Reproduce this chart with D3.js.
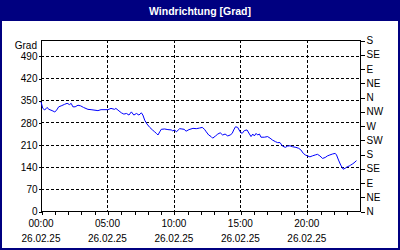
<!DOCTYPE html>
<html><head><meta charset="utf-8">
<script src="https://cdn.jsdelivr.net/npm/d3@7"></script>
<style>body{margin:0;background:#fff}svg{display:block}</style>
</head><body>
<script>
const title = "Windrichtung [Grad]";
const unitLabel = "Grad";
const dateLabel = "26.02.25";
const xTickHours = [0, 5, 10, 15, 20];
const yTicks = [0, 70, 140, 210, 280, 350, 420, 490];
const dirTicks = [0, 45, 90, 135, 180, 225, 270, 315, 360, 405, 450, 495, 540];
const dirLabels = ["N","NE","E","SE","S","SW","W","NW","N","NE","E","SE","S"];
// minutes since 00:00
const times = [0,8,17,27,36,50,62,69,80,91,107,118,129,136,144,154,167,179,192,212,226,257,271,302,316,332,338,352,363,374,386,397,408,419,431,442,453,460,468,478,491,503,513,521,528,536,543,558,573,588,595,603,611,626,636,646,655,668,686,701,716,728,738,746,757,768,775,788,798,809,820,831,843,854,863,870,878,888,899,908,918,930,941,948,956,963,971,978,986,993,1008,1023,1034,1045,1058,1068,1079,1090,1103,1113,1124,1135,1151,1163,1173,1184,1193,1203,1214,1225,1238,1248,1259,1271,1283,1293,1304,1316,1328,1334,1343,1353,1364,1373,1383,1391,1398,1405,1413,1424];
const values = [345,324,319,327,321,317,313,317,329,332,337,340,336,340,329,329,334,332,327,321,320,317,320,320,324,321,324,316,310,306,308,303,313,303,308,303,310,303,287,275,264,256,250,245,240,250,258,259,257,256,253,256,250,260,259,258,252,257,261,260,262,264,258,250,240,235,230,237,243,247,240,243,237,240,245,256,266,264,250,245,254,256,243,235,243,237,245,240,243,233,233,235,230,224,219,216,216,205,201,205,206,203,201,198,193,182,177,174,171,174,177,179,174,166,169,174,177,180,182,177,161,145,132,135,140,142,145,148,152,159];

const W = 400, H = 250;
const L = 41, R = 360, T = 40, B = 211;
const font = "Liberation Sans";
const fs = 10;
const svg = d3.select("body").append("svg").attr("width", W).attr("height", H);

// frame & title bar
svg.append("rect").attr("x",1).attr("y",1).attr("width",W-2).attr("height",H-2)
  .attr("fill","#fff").attr("stroke","#000080").attr("stroke-width",2);
svg.append("rect").attr("x",0).attr("y",0).attr("width",W).attr("height",21).attr("fill","#000080");
svg.append("text").attr("x",W/2).attr("y",14.5).attr("text-anchor","middle")
  .attr("fill","#fff").attr("font-family",font).attr("font-weight","bold").attr("font-size",10.5)
  .text(title);

const x = d3.scaleLinear().domain([0, 1440]).range([L, R]);
const y = d3.scaleLinear().domain([0, 540]).range([B, T]);

const g = svg.append("g");
// grid
g.selectAll(".hg").data(yTicks.filter(d => d > 0)).join("line")
  .attr("x1", L).attr("x2", R).attr("y1", d => Math.round(y(d)) + 0.5).attr("y2", d => Math.round(y(d)) + 0.5)
  .attr("stroke","#000").attr("stroke-dasharray","3,2").attr("shape-rendering","crispEdges");
g.selectAll(".vg").data(xTickHours.filter(d => d > 0)).join("line")
  .attr("y1", T).attr("y2", B).attr("x1", d => Math.round(x(d*60)) + 0.5).attr("x2", d => Math.round(x(d*60)) + 0.5)
  .attr("stroke","#000").attr("stroke-dasharray","3,2").attr("shape-rendering","crispEdges");

// plot frame
svg.append("rect").attr("x", L + 0.5).attr("y", T + 0.5).attr("width", R - L).attr("height", B - T)
  .attr("fill","none").attr("stroke","#000").attr("shape-rendering","crispEdges");

// left axis
const yAxis = d3.axisLeft(y).tickValues(yTicks).tickSize(3).tickSizeOuter(0);
const ga = svg.append("g").attr("transform", `translate(${L + 0.5},0.5)`).call(yAxis);
ga.select(".domain").remove();
ga.selectAll("text").attr("font-family", font).attr("font-size", fs).attr("fill","#000").attr("x",-4);
ga.selectAll("line").attr("shape-rendering","crispEdges");
svg.append("text").attr("x", L - 4).attr("y", T + 9).attr("text-anchor","end")
  .attr("font-family", font).attr("font-size", fs).attr("fill","#000").text(unitLabel);

// right axis
const rAxis = d3.axisRight(y).tickValues(dirTicks).tickFormat((d,i) => dirLabels[i]).tickSize(4).tickSizeOuter(0);
const gr = svg.append("g").attr("transform", `translate(${R + 0.5},0.5)`).call(rAxis);
gr.select(".domain").remove();
gr.selectAll("text").attr("font-family", font).attr("font-size", fs).attr("fill","#000").attr("x",6);
gr.selectAll("line").attr("shape-rendering","crispEdges");

// bottom axis
const hours = d3.range(0, 24);
const xAxis = d3.axisBottom(x).tickValues(hours.map(h => h*60)).tickSize(3).tickSizeOuter(0).tickFormat(() => "");
const gb = svg.append("g").attr("transform", `translate(0.5,${B + 0.5})`).call(xAxis);
gb.select(".domain").remove();
gb.selectAll("line").attr("shape-rendering","crispEdges");
const lab = svg.append("g");
lab.selectAll(".t1").data(xTickHours).join("text")
  .attr("x", d => x(d*60)).attr("y", 227).attr("text-anchor","middle")
  .attr("font-family", font).attr("font-size", fs).attr("fill","#000")
  .text(d => String(d).padStart(2,"0") + ":00");
lab.selectAll(".t2").data(xTickHours).join("text")
  .attr("x", d => x(d*60)).attr("y", 242).attr("text-anchor","middle")
  .attr("font-family", font).attr("font-size", fs).attr("fill","#000")
  .text(dateLabel);

// line
const line = d3.line().x((d,i) => x(times[i])).y(d => y(d));
svg.append("path").datum(values).attr("d", line).attr("fill","none").attr("stroke","#0000ff").attr("stroke-width",1);
</script>
</body></html>
